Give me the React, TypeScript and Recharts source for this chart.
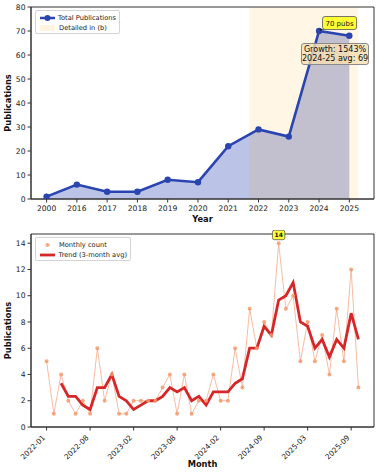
import React from 'react';
import {
  ComposedChart,
  Area,
  Line,
  XAxis,
  YAxis,
  Label,
  ReferenceArea,
  ReferenceDot,
} from 'recharts';

// (a) yearly totals
const YEARS = ['2000', '2016', '2017', '2018', '2019', '2020', '2021', '2022', '2023', '2024', '2025'];
const TOTALS = [1, 6, 3, 3, 8, 7, 22, 29, 26, 70, 68];
const TOTAL_TICKS = [0, 10, 20, 30, 40, 50, 60, 70, 80];
const DETAIL_START = 6.7;
const DETAIL_END = 10.3;

// (b) monthly counts
const MONTHS = [
  '2022-01', '2022-02', '2022-03', '2022-05', '2022-06', '2022-07', '2022-08', '2022-09', '2022-10', '2022-11',
  '2022-12', '2023-01', '2023-02', '2023-03', '2023-04', '2023-05', '2023-06', '2023-07', '2023-08', '2023-09',
  '2023-10', '2023-11', '2023-12', '2024-01', '2024-02', '2024-03', '2024-04', '2024-05', '2024-07', '2024-08',
  '2024-09', '2024-10', '2024-11', '2024-12', '2025-01', '2025-02', '2025-03', '2025-04', '2025-05', '2025-06',
  '2025-07', '2025-08', '2025-09', '2025-10',
];
const MONTHLY = [
  5, 1, 4, 2, 1, 2, 1, 6, 2, 4,
  1, 1, 2, 2, 2, 2, 3, 4, 1, 4,
  1, 2, 2, 4, 2, 2, 6, 3, 9, 6,
  8, 7, 14, 9, 10, 5, 8, 5, 7, 4,
  9, 5, 12, 3,
];
const TREND = [
  null, null, 3.33, 2.33, 2.33, 1.67, 1.33, 3, 3, 4,
  2.33, 2, 1.33, 1.67, 2, 2, 2.33, 3, 2.67, 3,
  2, 2.33, 1.67, 2.67, 2.67, 2.67, 3.33, 3.67, 6, 6,
  7.67, 7, 9.67, 10, 11, 8, 7.67, 6, 6.67, 5.33,
  6.67, 6, 8.67, 6.67,
];
const MONTH_Y_TICKS = [0, 2, 4, 6, 8, 10, 12, 14];

const FONT = '"DejaVu Sans", sans-serif';
const BLUE = '#2a44b0';
const BAND = '#ffa500';
const SALMON = '#f4a582';
const RED = '#d62728';

const yearData = YEARS.map((year, i) => ({ x: i, year, total: TOTALS[i] }));
const monthData = MONTHS.map((month, i) => ({ x: i, month, count: MONTHLY[i], trend: TREND[i] }));
const monthTicks = MONTHS.map((_, i) => i).filter((i) => i % 6 === 0);

const tickStyle = { fontSize: 7.6, fill: '#222', fontFamily: FONT };
const titleStyle = { fontSize: 8.3, fontWeight: 'bold', fill: '#111', fontFamily: FONT };

function MonthTick({ x, y, payload }: any) {
  const tx = x - 1;
  const ty = y + 7.7;
  return (
    <text
      x={tx}
      y={ty}
      textAnchor="end"
      transform={`rotate(-45 ${tx} ${ty})`}
      style={{ fontSize: 7.4, fill: '#222', fontFamily: FONT }}
    >
      {MONTHS[payload.value]}
    </text>
  );
}

function PubsBadge({ cx, cy }: any) {
  const bx = cx + 3.5;
  const by = cy - 14.5;
  return (
    <g>
      <line x1={bx + 2} y1={by + 12.5} x2={cx + 1} y2={cy - 0.5} stroke="#222" strokeWidth={0.8} />
      <path d={`M${cx + 0.5},${cy} l0.3,-2.8 l2.2,1.6 z`} fill="#222" />
      <rect x={bx} y={by} width={34} height={13} rx={2.5} fill="#ffff33" stroke="#555" strokeWidth={0.8} />
      <text x={bx + 17} y={by + 9.3} textAnchor="middle" style={{ fontSize: 7, fill: '#111', fontFamily: FONT }}>
        70 pubs
      </text>
    </g>
  );
}

function PeakBadge({ cx, cy }: any) {
  return (
    <g>
      <rect x={cx - 6.2} y={cy - 13} width={12.4} height={9.5} rx={2} fill="#ffff33" stroke="#555" strokeWidth={0.8} />
      <text x={cx} y={cy - 6.1} textAnchor="middle" style={{ fontSize: 6, fontWeight: 'bold', fill: '#111', fontFamily: FONT }}>
        14
      </text>
    </g>
  );
}

const legendBox: React.CSSProperties = {
  position: 'absolute',
  background: 'rgba(255,255,255,0.85)',
  border: '1px solid #d4d4d4',
  borderRadius: 2,
  fontFamily: FONT,
  fontSize: 6.7,
  color: '#222',
  boxSizing: 'border-box',
  padding: '2px 3px',
  lineHeight: '10px',
};

function LegendRow({ icon, text }: { icon: React.ReactNode; text: string }) {
  return (
    <div style={{ display: 'flex', alignItems: 'center', height: 10 }}>
      <svg width={17} height={10} style={{ marginRight: 3 }}>
        {icon}
      </svg>
      <span style={{ whiteSpace: 'nowrap' }}>{text}</span>
    </div>
  );
}

export default function App() {
  return (
    <div style={{ position: 'absolute', left: 0, top: 0, width: 380, height: 474, background: '#fff', fontFamily: FONT }}>
      <ComposedChart
        width={380}
        height={230}
        data={yearData}
        margin={{ top: 7, right: 6, bottom: 0, left: 0 }}
        style={{ position: 'absolute', left: 0, top: 0 }}
      >
        <XAxis
          type="number"
          dataKey="x"
          domain={[-0.515, 10.815]}
          ticks={YEARS.map((_, i) => i)}
          tickFormatter={(v: number) => YEARS[v]}
          interval={0}
          allowDataOverflow
          height={31}
          stroke="#333"
          tickSize={3.5}
          tickMargin={3}
          tick={tickStyle}
        >
          <Label value="Year" position="insideBottom" offset={8.5} style={titleStyle} />
        </XAxis>
        <YAxis
          type="number"
          domain={[0, 80]}
          ticks={TOTAL_TICKS}
          interval={0}
          allowDataOverflow
          width={31}
          stroke="#333"
          tickSize={3.5}
          tickMargin={2}
          tick={tickStyle}
        >
          <Label value="Publications" angle={-90} position="insideLeft" offset={8} style={{ ...titleStyle, textAnchor: 'middle' }} />
        </YAxis>
        <Area
          type="linear"
          dataKey="total"
          stroke="none"
          fill={BLUE}
          fillOpacity={0.32}
          isAnimationActive={false}
        />
        <ReferenceArea x1={DETAIL_START} x2={DETAIL_END} y1={0} y2={80} fill={BAND} fillOpacity={0.1} stroke="none" />
        <Line
          type="linear"
          dataKey="total"
          stroke={BLUE}
          strokeWidth={2.6}
          dot={{ r: 3.2, fill: BLUE, stroke: BLUE, strokeWidth: 0 }}
          isAnimationActive={false}
        />
        <ReferenceArea x1={-0.515} x2={10.815} y1={0} y2={80} fill="none" stroke="#333" strokeWidth={1} />
        <ReferenceDot x={9} y={70} r={0} shape={PubsBadge} />
      </ComposedChart>

      <div style={{ ...legendBox, left: 35, top: 10, width: 85, height: 24 }}>
        <LegendRow
          icon={
            <g>
              <line x1={1} y1={5} x2={16} y2={5} stroke={BLUE} strokeWidth={2.5} />
              <circle cx={8.5} cy={5} r={3} fill={BLUE} />
            </g>
          }
          text="Total Publications"
        />
        <LegendRow
          icon={<rect x={1} y={2} width={15} height={6} fill={BAND} fillOpacity={0.12} />}
          text="Detailed in (b)"
        />
      </div>

      <div
        style={{
          position: 'absolute',
          left: 301,
          top: 43,
          width: 68,
          height: 22,
          boxSizing: 'border-box',
          background: 'rgba(245,222,179,0.8)',
          border: '1px solid #8a8a8a',
          borderRadius: 3,
          fontFamily: FONT,
          fontSize: 8,
          lineHeight: '9.2px',
          color: '#111',
          textAlign: 'center',
          paddingTop: 1,
          whiteSpace: 'nowrap',
        }}
      >
        <div>Growth: 1543%</div>
        <div>2024-25 avg: 69</div>
      </div>

      <ComposedChart
        width={380}
        height={244}
        data={monthData}
        margin={{ top: 4, right: 6, bottom: 0, left: 0 }}
        style={{ position: 'absolute', left: 0, top: 230, overflow: 'visible' }}
      >
        <XAxis
          type="number"
          dataKey="x"
          domain={[-2.15, 45.15]}
          ticks={monthTicks}
          interval={0}
          allowDataOverflow
          height={47}
          stroke="#333"
          tickSize={3.5}
          tickMargin={0}
          tick={<MonthTick />}
        >
          <Label value="Month" position="insideBottom" offset={7} style={titleStyle} />
        </XAxis>
        <YAxis
          type="number"
          domain={[0, 14.7]}
          ticks={MONTH_Y_TICKS}
          interval={0}
          allowDataOverflow
          width={31}
          stroke="#333"
          tickSize={3.5}
          tickMargin={2}
          tick={tickStyle}
        >
          <Label value="Publications" angle={-90} position="insideLeft" offset={8} style={{ ...titleStyle, textAnchor: 'middle' }} />
        </YAxis>
        <Line
          type="linear"
          dataKey="count"
          stroke={SALMON}
          strokeOpacity={0.75}
          strokeWidth={1}
          dot={{ r: 2, fill: '#f29a6c', fillOpacity: 0.85, stroke: 'none' }}
          isAnimationActive={false}
        />
        <Line
          type="linear"
          dataKey="trend"
          stroke={RED}
          strokeWidth={2.8}
          dot={false}
          isAnimationActive={false}
        />
        <ReferenceArea x1={-2.15} x2={45.15} y1={0} y2={14.7} fill="none" stroke="#333" strokeWidth={1} />
        <ReferenceDot x={32} y={14} r={0} shape={PeakBadge} />
      </ComposedChart>

      <div style={{ ...legendBox, left: 35, top: 237, width: 96, height: 24 }}>
        <LegendRow icon={<circle cx={8.5} cy={5} r={2} fill="#f29a6c" fillOpacity={0.85} />} text="Monthly count" />
        <LegendRow icon={<line x1={1} y1={5} x2={16} y2={5} stroke={RED} strokeWidth={2.8} />} text="Trend (3-month avg)" />
      </div>
    </div>
  );
}
